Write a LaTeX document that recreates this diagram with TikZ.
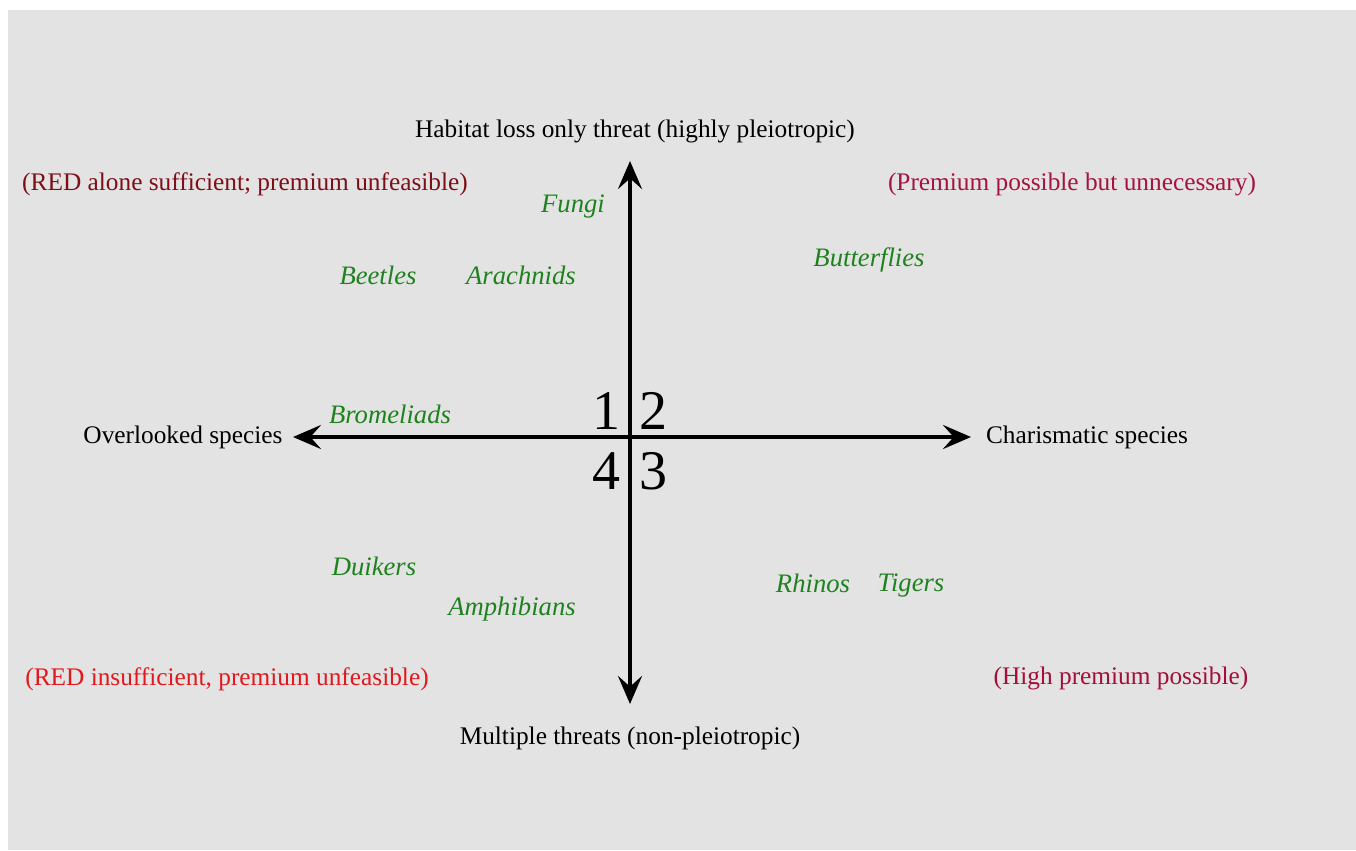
\documentclass[tikz,border=0pt]{standalone}
\usepackage{fontspec}
\setmainfont{Liberation Serif}
\usetikzlibrary{arrows.meta}
\definecolor{bggray}{RGB}{227,227,227}
\definecolor{tlred}{RGB}{125,15,25}
\definecolor{trred}{RGB}{165,20,65}
\definecolor{blred}{RGB}{225,25,30}
\definecolor{brred}{RGB}{165,15,55}
\definecolor{taxgreen}{RGB}{30,130,30}
\tikzset{
  axis/.style={line width=3pt, {Stealth[length=21pt,width=18pt,inset=8pt]}-{Stealth[length=21pt,width=18pt,inset=8pt]}},
  axislabel/.style={font=\fontsize{19}{22}\selectfont, text=black, inner sep=0pt},
  quadnote/.style={font=\fontsize{19}{22}\selectfont, inner sep=0pt},
  taxon/.style={font=\fontsize{20}{23}\selectfont\itshape, text=taxgreen, inner sep=0pt},
  quadnum/.style={font=\fontsize{42}{46}\selectfont, inner sep=0pt}
}
\begin{document}
\begin{tikzpicture}[x=0.75pt,y=-0.75pt]
\useasboundingbox (0,0) rectangle (1356,850);
\fill[white] (0,0) rectangle (1356,850);
\fill[bggray] (8,10) rectangle (1356,850);

\coordinate (c) at (630,437);
\coordinate (top) at (630,161);
\coordinate (bot) at (630,704);
\coordinate (left) at (293,437);
\coordinate (right) at (971,437);
\draw[axis] (bot) -- (top);
\draw[axis] (left) -- (right);

\node[axislabel] (ntop) at (635,131) {Habitat loss only threat (highly pleiotropic)};
\node[axislabel] (nbot) at (630,738) {Multiple threats (non-pleiotropic)};
\node[axislabel] (nleft) at (183,437) {Overlooked species};
\node[axislabel] (nright) at (1087,437) {Charismatic species};

\node[quadnote, text=tlred] (q1) at (245,184) {(RED alone sufficient; premium unfeasible)};
\node[quadnote, text=trred] (q2) at (1072,184) {(Premium possible but unnecessary)};
\node[quadnote, text=blred] (q4) at (227,679) {(RED insufficient, premium unfeasible)};
\node[quadnote, text=brred] (q3) at (1121,678) {(High premium possible)};

\node[taxon] (fungi) at (573,207) {Fungi};
\node[taxon] (beetles) at (378,275) {Beetles};
\node[taxon] (arach) at (521,275) {Arachnids};
\node[taxon] (butter) at (869,260) {Butterflies};
\node[taxon] (brom) at (390,414) {Bromeliads};
\node[taxon] (duik) at (374,566) {Duikers};
\node[taxon] (amph) at (512,609) {Amphibians};
\node[taxon] (rhin) at (813,583) {Rhinos};
\node[taxon] (tig) at (911,586) {Tigers};

\node[quadnum, anchor=base east] (n1) at (621,429) {1};
\node[quadnum, anchor=base west] (n2) at (639,429) {2};
\node[quadnum, anchor=base east] (n4) at (621,489) {4};
\node[quadnum, anchor=base west] (n3) at (639,489) {3};
\end{tikzpicture}
\end{document}
